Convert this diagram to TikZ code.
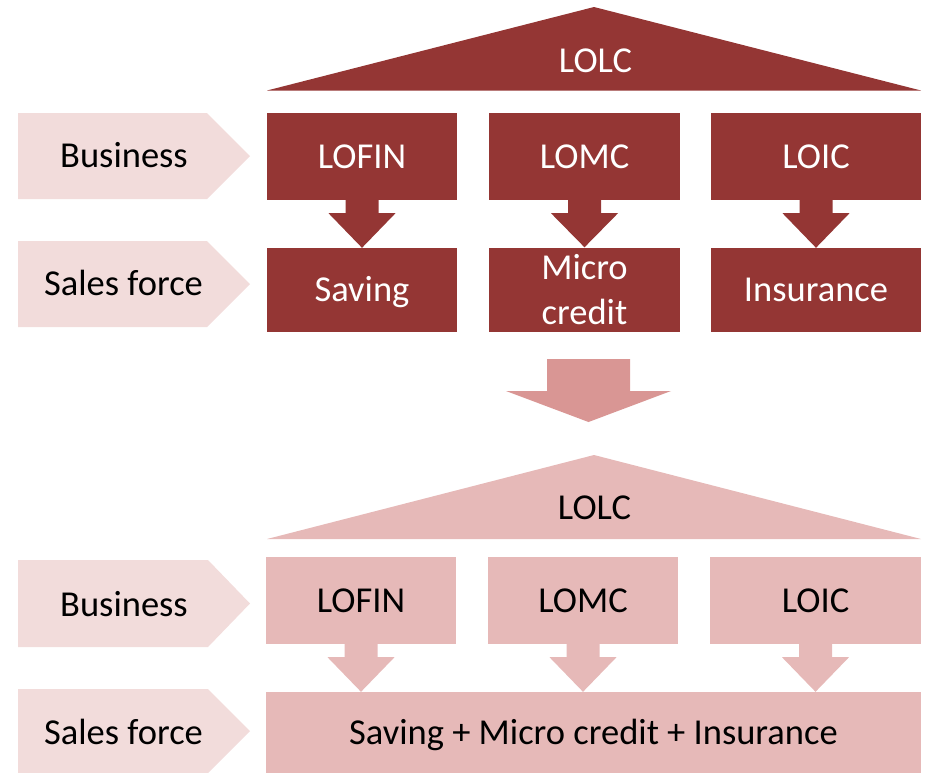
\documentclass[tikz,border=0pt]{standalone}
\usepackage{fontspec}
\setmainfont{Carlito}
\usetikzlibrary{calc}
\definecolor{darkred}{HTML}{943634}
\definecolor{palered}{HTML}{F2DCDB}
\definecolor{lightred}{HTML}{E6B9B8}
\definecolor{midred}{HTML}{D99694}
\tikzset{
  txt/.style={font=\fontsize{36.5}{45}\selectfont, inner sep=0pt},
  capline/.style={text height=23pt, text depth=0pt},
  boxbase/.style={rectangle, inner sep=0pt, font=\fontsize{36.5}{45}\selectfont},
  darkbox/.style={boxbase, fill=darkred, text=white},
  lightbox/.style={boxbase, fill=lightred, text=black},
}
\newcommand{\blockarrow}[3]{%
  \fill[#3] ($(#1.south)+(-16.5,0)$) -- ($(#1.south)+(16.5,0)$) -- ($(#1.south)+(16.5,13)$)
    -- ($(#1.south)+(33.5,13)$) -- (#1.south |- #2.north) -- ($(#1.south)+(-33.5,13)$)
    -- ($(#1.south)+(-16.5,13)$) -- cycle;}
\begin{document}
\begin{tikzpicture}[x=1pt,y=-1pt]
\useasboundingbox (0,0) rectangle (926,772);
% ---------- top part ----------
\fill[darkred] (267,90.5) -- (594,7) -- (921,90.5) -- cycle;
\node[txt, capline, text=white] (lolcA) at (595.5,61) {LOLC};
% left chevrons
\fill[palered] (18,113) -- (207,113) -- (250,156) -- (207,199) -- (18,199) -- cycle;
\node[txt, capline] (busA) at (124,156) {Business};
\fill[palered] (18,241) -- (207,241) -- (250,284) -- (207,327) -- (18,327) -- cycle;
\node[txt, capline] (salesA) at (123.5,283.5) {Sales force};
% boxes
\node[darkbox, capline, minimum width=190pt, minimum height=87pt] (lofinA) at (362,156.5) {LOFIN};
\node[darkbox, capline, minimum width=191pt, minimum height=87pt] (lomcA) at (584.5,156.5) {LOMC};
\node[darkbox, capline, minimum width=210pt, minimum height=87pt] (loicA) at (816,156.5) {LOIC};
\node[darkbox, capline, minimum width=190pt, minimum height=84pt] (savA) at (362,290) {Saving};
\node[darkbox, align=center, minimum width=191pt, minimum height=84pt] (micA) at (584.5,289.5) {Micro\\credit};
\node[darkbox, capline, minimum width=210pt, minimum height=84pt] (insA) at (816,290) {Insurance};
\blockarrow{lofinA}{savA}{darkred}
\blockarrow{lomcA}{micA}{darkred}
\blockarrow{loicA}{insA}{darkred}
% ---------- middle arrow ----------
\coordinate (midtop) at (588.5,359);
\coordinate (midtip) at (588.5,422);
\fill[midred] ($(midtop)+(-41.5,0)$) -- ($(midtop)+(41.5,0)$) -- ($(midtop)+(41.5,32)$)
  -- ($(midtop)+(82.5,32)$) -- (midtip) -- ($(midtop)+(-82.5,32)$) -- ($(midtop)+(-41.5,32)$) -- cycle;
% ---------- bottom part ----------
\fill[lightred] (267,539) -- (594,455) -- (921,539) -- cycle;
\node[txt, capline] (lolcB) at (594.5,508) {LOLC};
\fill[palered] (18,560) -- (208,560) -- (250,603.5) -- (208,647) -- (18,647) -- cycle;
\node[txt, capline] (busB) at (124,605) {Business};
\fill[palered] (18,689) -- (208,689) -- (250,731) -- (208,773) -- (18,773) -- cycle;
\node[txt, capline] (salesB) at (123.5,733) {Sales force};
\node[lightbox, capline, minimum width=190pt, minimum height=87pt] (lofinB) at (361,600.5) {LOFIN};
\node[lightbox, capline, minimum width=190pt, minimum height=87pt] (lomcB) at (583,600.5) {LOMC};
\node[lightbox, capline, minimum width=211pt, minimum height=87pt] (loicB) at (815.5,600.5) {LOIC};
\node[lightbox, capline, minimum width=655pt, minimum height=82pt] (allB) at (593.5,733) {Saving + Micro credit + Insurance};
\blockarrow{lofinB}{allB}{lightred}
\blockarrow{lomcB}{allB}{lightred}
\blockarrow{loicB}{allB}{lightred}
\end{tikzpicture}
\end{document}
